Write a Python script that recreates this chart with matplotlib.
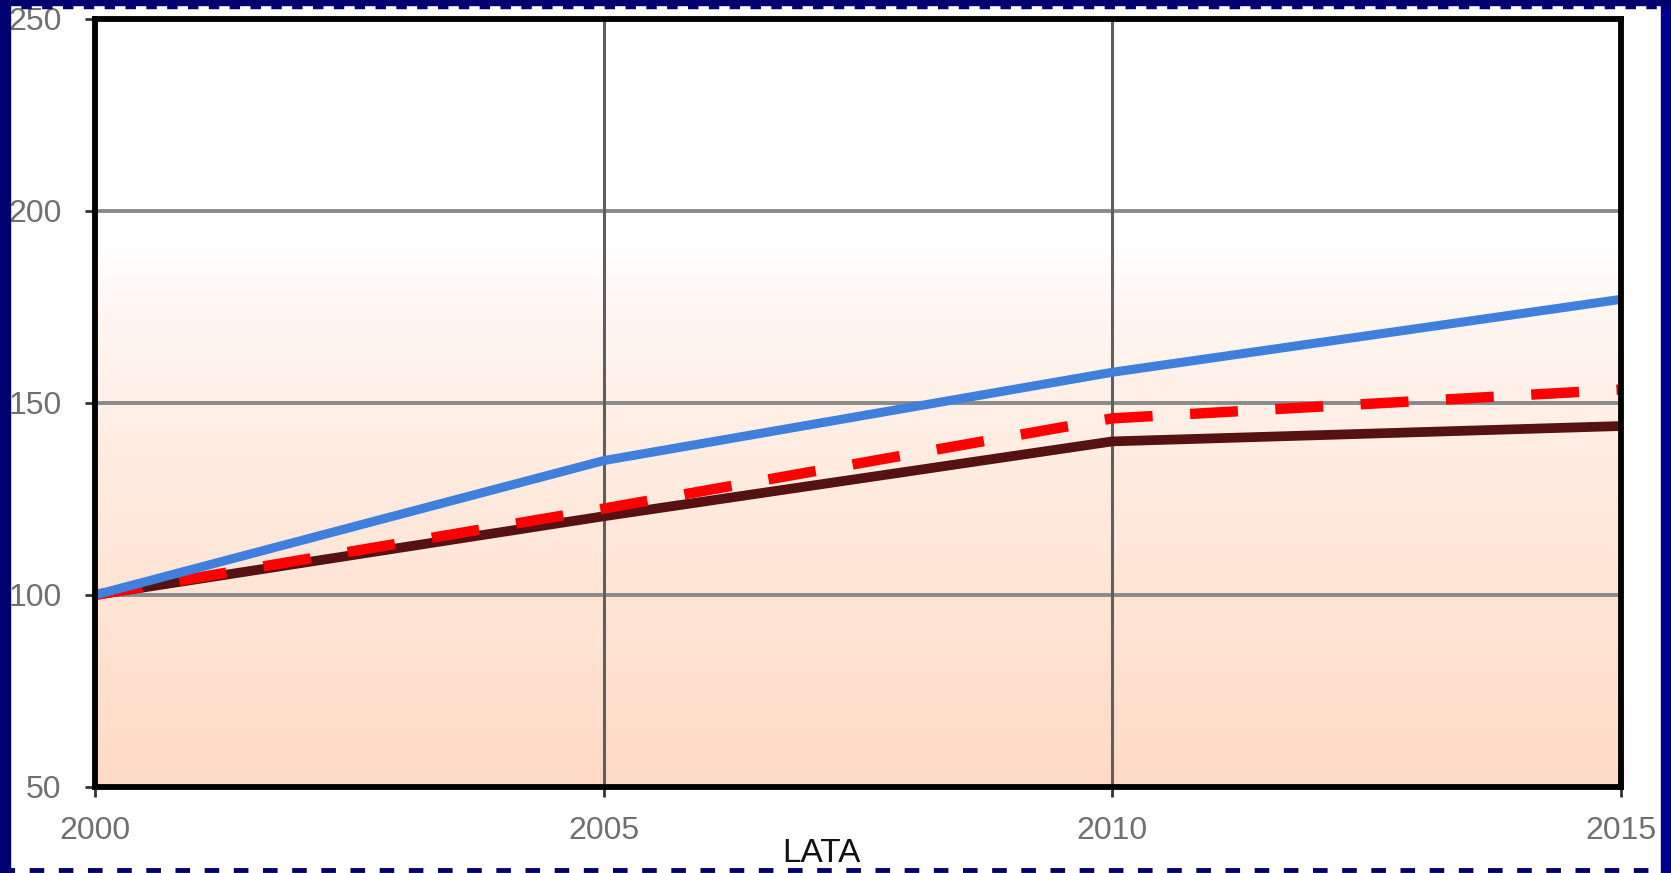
import matplotlib
matplotlib.use("Agg")
import matplotlib.pyplot as plt
import numpy as np
from matplotlib.patches import Rectangle
from matplotlib.lines import Line2D

plt.rcParams["font.family"] = ["Liberation Sans", "DejaVu Sans"]

years = [2000, 2005, 2010, 2015]
blue_values = [100, 135, 158, 177]
red_values = [100, 122.5, 146, 153.5]
brown_values = [100, 120.5, 140, 144]

x_ticks = [2000, 2005, 2010, 2015]
y_ticks = [50, 100, 150, 200, 250]
x_label = "LATA"

W, H = 1671, 873
fig = plt.figure(figsize=(W / 100, H / 100), dpi=100, facecolor="white")
ax = fig.add_axes([95 / W, 1 - 787 / H, (1621 - 95) / W, (787 - 19) / H])
ax.set_xlim(2000, 2015)
ax.set_ylim(50, 250)

# peach gradient fading to white near the top
ys = np.linspace(50, 250, 400)
alpha = np.clip((190 - ys) / 140, 0, 1) ** 0.7
grad = np.zeros((len(ys), 1, 4))
grad[..., 0] = 1.0
grad[..., 1] = 0.86
grad[..., 2] = 0.78
grad[:, 0, 3] = alpha
ax.imshow(grad, extent=[2000, 2015, 50, 250], origin="lower", aspect="auto",
          interpolation="bilinear", zorder=0)

for y in [100, 150, 200]:
    ax.axhline(y, color="#8a8a8a", lw=2.8, zorder=1)
for x in [2005, 2010]:
    ax.axvline(x, color="#5f5f5f", lw=2.2, zorder=1)

ax.plot(years, brown_values, color="#561212", lw=7, solid_capstyle="butt", zorder=3)
ax.plot(years, red_values, color="#ff0000", lw=7.5, dashes=(4.6, 3.6),
        dash_capstyle="butt", zorder=4)
ax.plot(years, blue_values, color="#3f80dc", lw=6.5, solid_capstyle="butt", zorder=5)

for s in ax.spines.values():
    s.set_color("black")
    s.set_linewidth(4.2)
    s.set_zorder(6)

ax.set_xticks(x_ticks)
ax.set_yticks(y_ticks)
ax.tick_params(axis="both", direction="out", length=7, width=2, color="#333333",
               labelcolor="#707070", labelsize=23)
ax.tick_params(axis="y", pad=17)
ax.tick_params(axis="x", pad=14)

fig.text(821 / W, 1 - 838 / H, x_label, ha="center", va="top", fontsize=24,
         color="#111111")

# navy frame around the slide
navy = "#00006e"
fig.patches.append(Rectangle((0, 0), 10 / W, 1, transform=fig.transFigure,
                             color=navy, zorder=10))
fig.patches.append(Rectangle((1 - 10 / W, 0), 10 / W, 1, transform=fig.transFigure,
                             color="#00008e", zorder=10))
fig.patches.append(Rectangle((0, 1 - 5 / H), 1, 5 / H, transform=fig.transFigure,
                             color=navy, zorder=10))
fig.lines.append(Line2D([0, 1], [1 - 6.5 / H, 1 - 6.5 / H], transform=fig.transFigure,
                        color=navy, lw=2.5, dashes=(3, 3), zorder=10))
fig.lines.append(Line2D([0, 1], [3 / H, 3 / H], transform=fig.transFigure,
                        color=navy, lw=3.5, dashes=(3, 3), zorder=10))

fig.savefig("out.png", dpi=100, facecolor="white")
